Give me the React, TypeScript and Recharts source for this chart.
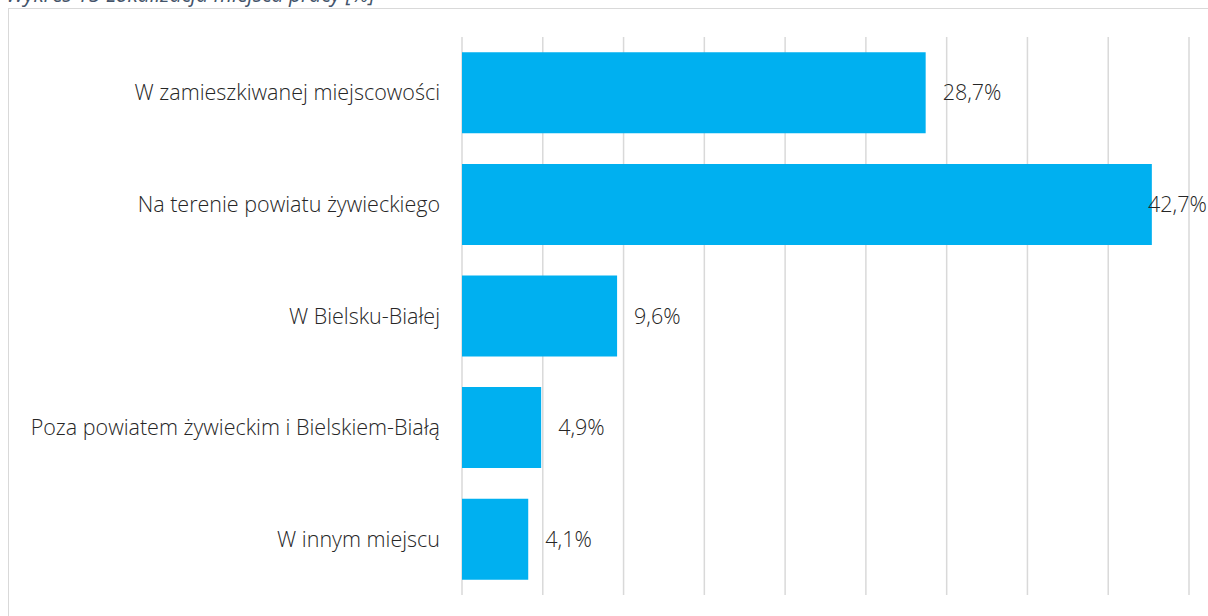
import { BarChart, Bar, XAxis, YAxis, CartesianGrid, LabelList } from 'recharts';

const categories = [
  'W zamieszkiwanej miejscowości',
  'Na terenie powiatu żywieckiego',
  'W Bielsku-Białej',
  'Poza powiatem żywieckim i Bielskiem-Białą',
  'W innym miejscu',
];
const values = [28.7, 42.7, 9.6, 4.9, 4.1];
const xTicks = [0, 5, 10, 15, 20, 25, 30, 35, 40, 45];

const chartData = categories.map((name, i) => ({ name, value: values[i] }));

const FONT = '"Open Sans", sans-serif';

// value labels sit right of the bar, pulled back in when they would run off the edge
const ValueLabel = (props: any) => {
  const { x, y, width, height, value } = props;
  const text = value.toFixed(1).replace('.', ',') + '%';
  const tx = Math.min(x + width + 17, 1148);
  return (
    <text x={tx} y={y + height / 2} dy="0.35em" fill="#262626" fontSize={21.5} fontFamily={FONT} fontWeight={300}>
      {text}
    </text>
  );
};

export default function App() {
  return (
    <div style={{ position: 'absolute', left: 0, top: 0, width: 1208, height: 616, overflow: 'hidden', background: '#fff' }}>
      <div style={{ position: 'absolute', left: 6, top: -20, fontFamily: FONT, fontStyle: 'italic', fontSize: 21, color: '#44546a', whiteSpace: 'nowrap' }}>
        Wykres 15 Lokalizacja miejsca pracy [%]
      </div>
      <div style={{ position: 'absolute', left: 8, top: 8, width: 1300, height: 700, border: '1px solid #d9d9d9' }} />
      <div style={{ position: 'absolute', left: 0, top: 0 }}>
        <BarChart width={1208} height={616} data={chartData} layout="vertical" margin={{ top: 37, right: 19, bottom: 21, left: 0 }} barCategoryGap="13.7%">
          <CartesianGrid horizontal={false} stroke="#d9d9d9" strokeWidth={1.5} />
          <XAxis type="number" domain={[0, 45]} ticks={xTicks} hide />
          <YAxis
            type="category"
            dataKey="name"
            width={462}
            axisLine={false}
            tickLine={false}
            tickMargin={16}
            tick={{ fill: '#262626', fontSize: 21.5, fontFamily: FONT, fontWeight: 300 }}
          />
          <Bar dataKey="value" fill="#00b0f0" isAnimationActive={false}>
            <LabelList dataKey="value" content={ValueLabel} />
          </Bar>
        </BarChart>
      </div>
    </div>
  );
}
